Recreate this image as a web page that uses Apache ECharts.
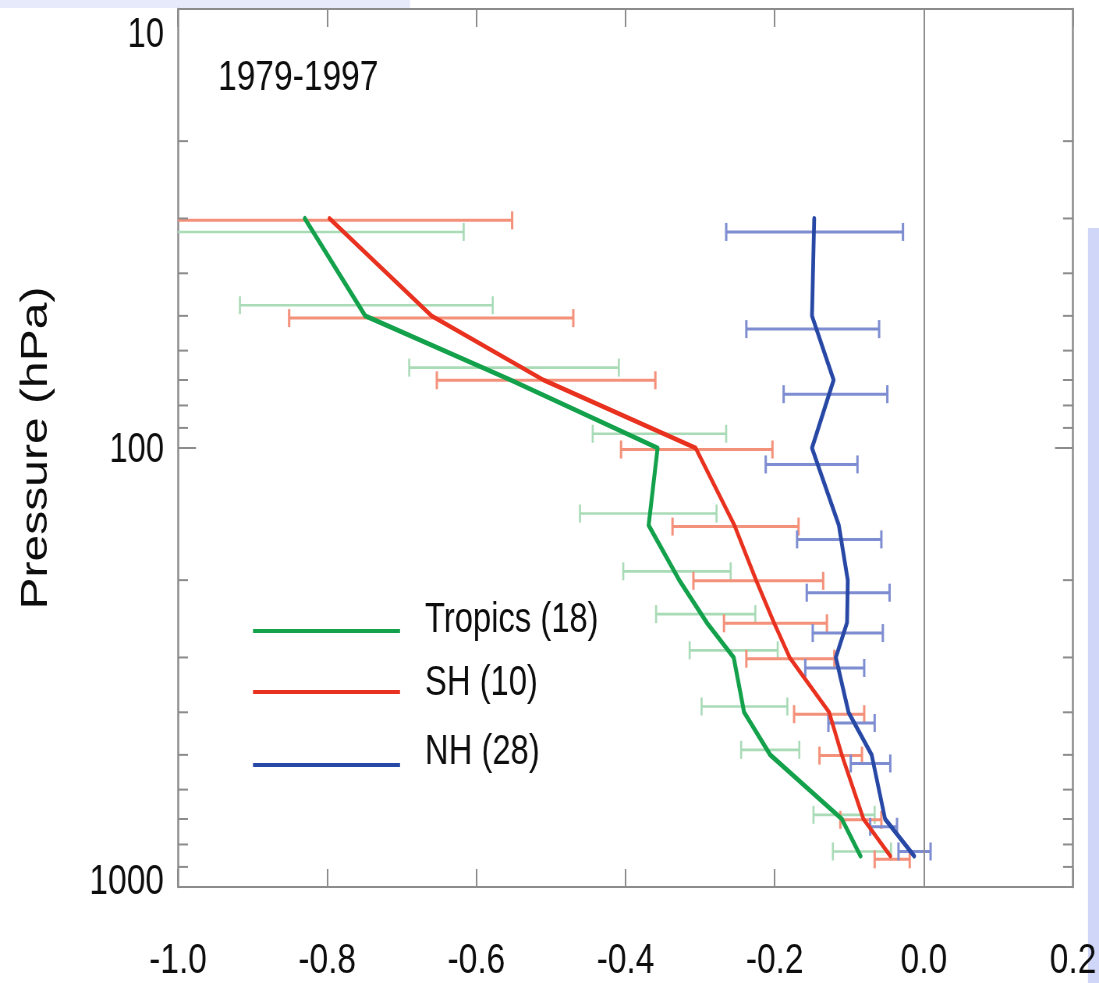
<!DOCTYPE html>
<html>
<head>
<meta charset="utf-8">
<script src="https://cdn.jsdelivr.net/npm/echarts@6/dist/echarts.min.js"></script>
<style>
html,body{margin:0;padding:0;background:#fff;overflow:hidden;}
#wrap{width:1099px;height:983px;overflow:hidden;position:relative;}
/* the reference figure is horizontally condensed; the chart is drawn wider and squeezed */
#chart{width:1409px;height:983px;transform:scaleX(0.78);transform-origin:0 0;}
</style>
</head>
<body>
<div id="wrap"><div id="chart"></div></div>
<script>
// ---------- data ----------
const levels = [30, 50, 70, 100, 150, 200, 250, 300, 400, 500, 700, 850];
const tropics = [-0.830, -0.749, -0.554, -0.357, -0.369, -0.328, -0.291, -0.255, -0.241, -0.206, -0.110, -0.085];
const sh      = [-0.797, -0.660, -0.510, -0.306, -0.254, -0.225, -0.201, -0.180, -0.127, -0.110, -0.081, -0.045];
const nh      = [-0.147, -0.150, -0.121, -0.150, -0.114, -0.102, -0.103, -0.118, -0.101, -0.070, -0.052, -0.013];

const tropicsLo = [-1.043, -0.917, -0.690, -0.444, -0.461, -0.403, -0.359, -0.314, -0.298, -0.245, -0.148, -0.122];
const tropicsHi = [-0.617, -0.578, -0.409, -0.265, -0.278, -0.259, -0.226, -0.196, -0.183, -0.167, -0.066, -0.044];
const shLo      = [-1.042, -0.851, -0.653, -0.406, -0.337, -0.309, -0.268, -0.238, -0.174, -0.140, -0.112, -0.066];
const shHi      = [-0.552, -0.470, -0.360, -0.203, -0.168, -0.135, -0.130, -0.120, -0.080, -0.083, -0.057, -0.019];
const nhLo      = [-0.265, -0.238, -0.188, -0.212, -0.170, -0.157, -0.149, -0.159, -0.128, -0.098, -0.072, -0.034];
const nhHi      = [-0.028, -0.060, -0.049, -0.089, -0.057, -0.046, -0.055, -0.080, -0.066, -0.045, -0.036, 0.009];

// pressure at which each error bar is drawn (bars are dodged vertically in the original)
const tropicsBarP = [32.2, 47.3, 65.6, 92.8, 141, 191, 239, 289, 388, 487, 685, 830];
const shBarP      = [30.3, 50.6, 70.1, 100.8, 151, 200.7, 250.8, 302, 404, 502, 703, 865];
const nhBarP      = [32.2, 53.6, 75.4, 109, 161.5, 213.6, 264, 317, 423, 523, 729, 830];

const seriesNames = ['Tropics (18)', 'SH (10)', 'NH (28)'];
const yTickLabels = [10, 100, 1000];
const yMinorTicks = [20, 30, 40, 50, 60, 70, 80, 90, 200, 300, 400, 500, 600, 700, 800, 900];
const xMin = -1.0, xMax = 0.2, xStep = 0.2;
const title = '1979-1997';
const yName = 'Pressure (hPa)';

// ---------- styles ----------
const S = 0.78;                 // horizontal squeeze applied by CSS
const X = v => v / S;           // convert a target x-pixel into chart space
const SANS = "'Liberation Sans', Arial, Helvetica, sans-serif";
const TXT = '#0d0d0d';
const lineColors = ['#13a24b', '#e8321f', '#2848a6'];
const barColors = ['#a9dbb7', '#f4917a', '#7e8dd1'];
const lineWidths = [5, 4.6, 4.8];
const barWidths = [2.6, 3, 3];
const axisGrey = '#8c8c8c';
const CAP = 9;

const chart = echarts.init(document.getElementById('chart'), null, {renderer: 'canvas', width: 1409, height: 983});

function pairs(xs, ps) { return xs.map((x, i) => [x, ps[i]]); }

function errorSeries(lo, hi, barP, idx) {
  return {
    type: 'custom',
    name: seriesNames[idx] + ' err',
    xAxisIndex: 0, yAxisIndex: 0,
    silent: true,
    z: 2,
    data: lo.map((v, i) => [v, hi[i], barP[i]]),
    renderItem: function (params, api) {
      const l = api.value(0), h = api.value(1), p = api.value(2);
      const left = api.coord([Math.max(l, xMin), p]);
      const right = api.coord([Math.min(h, xMax), p]);
      const style = {stroke: barColors[idx], lineWidth: barWidths[idx]};
      const children = [{type: 'line', shape: {x1: left[0], y1: left[1], x2: right[0], y2: right[1]}, style: style}];
      if (l >= xMin) children.push({type: 'line', shape: {x1: left[0], y1: left[1] - CAP, x2: left[0], y2: left[1] + CAP}, style: style});
      if (h <= xMax) children.push({type: 'line', shape: {x1: right[0], y1: right[1] - CAP, x2: right[0], y2: right[1] + CAP}, style: style});
      return {type: 'group', children: children};
    }
  };
}

function lineSeries(xs, idx) {
  return {
    type: 'line',
    name: seriesNames[idx],
    data: pairs(xs, levels),
    xAxisIndex: 0, yAxisIndex: 0,
    showSymbol: false, symbol: 'none',
    lineStyle: {color: lineColors[idx], width: lineWidths[idx], join: 'round', cap: 'round'},
    itemStyle: {color: lineColors[idx]},
    z: 5,
    silent: true,
    animation: false
  };
}

const yLabelFormatter = function (v) {
  const r = Math.round(v);
  if (!yTickLabels.includes(r)) return '';
  if (r === yTickLabels[0]) return '{top|' + r + '}';
  if (r === yTickLabels[yTickLabels.length - 1]) return '{bot|' + r + '}';
  return '{mid|' + r + '}';
};

const labelRich = {
  top: {fontFamily: SANS, fontSize: 42, color: TXT, padding: [52, 0, 0, 0]},
  mid: {fontFamily: SANS, fontSize: 42, color: TXT, padding: [4, 0, 0, 0]},
  bot: {fontFamily: SANS, fontSize: 43, color: TXT, padding: [0, 0, 10, 0]}
};

// one legend box per entry (line centre y, in target pixels)
const legendLineY = [632, 693, 766];
const legendTextShift = [22, 18, 26];
const legends = seriesNames.map((n, i) => ({
  data: [{name: n, icon: 'rect', itemStyle: {color: lineColors[i]}}],
  orient: 'vertical',
  left: X(253), top: legendLineY[i] - 22 - legendTextShift[i] / 2,
  itemWidth: X(147), itemHeight: 4,
  padding: 0,
  selectedMode: false,
  formatter: name => '{t' + i + '|' + name + '}',
  textStyle: {
    rich: {
      ['t' + i]: {fontFamily: SANS, fontSize: 42, color: TXT, lineHeight: 44,
        padding: [0, 0, legendTextShift[i], X(25) - 5]}
    }
  }
}));

const option = {
  animation: false,
  backgroundColor: '#ffffff',
  grid: {left: X(178), right: X(26), top: 9, bottom: 85, containLabel: false},
  title: {
    text: title, left: X(218), top: 57, padding: 0,
    textStyle: {fontFamily: SANS, fontSize: 43, fontWeight: 'normal', color: TXT, lineHeight: 43}
  },
  legend: legends,
  xAxis: [
    {
      type: 'value', position: 'bottom', min: xMin, max: xMax, interval: xStep,
      axisLine: {show: true, onZero: false, lineStyle: {color: axisGrey, width: 2}},
      axisTick: {show: true, inside: true, length: 18, lineStyle: {color: axisGrey, width: 2}},
      splitLine: {show: false},
      axisLabel: {show: true, margin: 53, fontFamily: SANS, fontSize: 43, color: TXT,
        formatter: v => v.toFixed(1)}
    },
    {
      type: 'value', position: 'top', min: xMin, max: xMax, interval: xStep,
      axisLine: {show: true, onZero: false, lineStyle: {color: axisGrey, width: 2}},
      axisTick: {show: true, inside: true, length: 18, lineStyle: {color: axisGrey, width: 2}},
      splitLine: {show: false},
      axisLabel: {show: false}
    }
  ],
  yAxis: [
    {
      type: 'log', logBase: 10, min: 10, max: 1000, inverse: true, position: 'left',
      name: yName, nameLocation: 'middle', nameRotate: 90, nameGap: 157,
      nameTextStyle: {fontFamily: SANS, fontSize: 48, color: TXT},
      axisLine: {show: true, onZero: false, lineStyle: {color: axisGrey, width: 2.5}},
      axisTick: {show: true, inside: true, length: X(18), lineStyle: {color: axisGrey, width: 2}},
      splitLine: {show: false},
      axisLabel: {show: true, margin: X(14), formatter: yLabelFormatter, rich: labelRich}
    },
    {
      type: 'log', logBase: 10, min: 10, max: 1000, inverse: true, position: 'right',
      axisLine: {show: true, onZero: false, lineStyle: {color: axisGrey, width: 2.5}},
      axisTick: {show: true, inside: true, length: X(18), lineStyle: {color: axisGrey, width: 2}},
      splitLine: {show: false},
      axisLabel: {show: false}
    }
  ],
  graphic: [
    {type: 'rect', left: 0, top: 0, shape: {width: X(410), height: 8}, style: {fill: '#e6eafb'}, z: -1},
    {type: 'rect', left: X(1088), top: 228, shape: {width: X(11), height: 755}, style: {fill: '#cfd6f7'}, z: -1}
  ],
  series: [
    // minor ticks of the log axis, drawn on both sides
    {
      type: 'custom', silent: true, z: 3,
      xAxisIndex: 0, yAxisIndex: 0,
      data: yMinorTicks.map(v => [v]),
      renderItem: function (params, api) {
        const p = api.value(0);
        const l = api.coord([xMin, p]);
        const r = api.coord([xMax, p]);
        const st = {stroke: axisGrey, lineWidth: 2};
        return {type: 'group', children: [
          {type: 'line', shape: {x1: l[0], y1: l[1], x2: l[0] + X(10), y2: l[1]}, style: st},
          {type: 'line', shape: {x1: r[0], y1: r[1], x2: r[0] - X(10), y2: r[1]}, style: st}
        ]};
      }
    },
    errorSeries(tropicsLo, tropicsHi, tropicsBarP, 0),
    errorSeries(shLo, shHi, shBarP, 1),
    errorSeries(nhLo, nhHi, nhBarP, 2),
    Object.assign(lineSeries(tropics, 0), {
      markLine: {
        silent: true, symbol: 'none', animation: false,
        label: {show: false},
        lineStyle: {color: axisGrey, width: 2, type: 'solid'},
        data: [{xAxis: 0}]
      }
    }),
    lineSeries(sh, 1),
    lineSeries(nh, 2)
  ]
};

chart.setOption(option);
</script>
</body>
</html>
